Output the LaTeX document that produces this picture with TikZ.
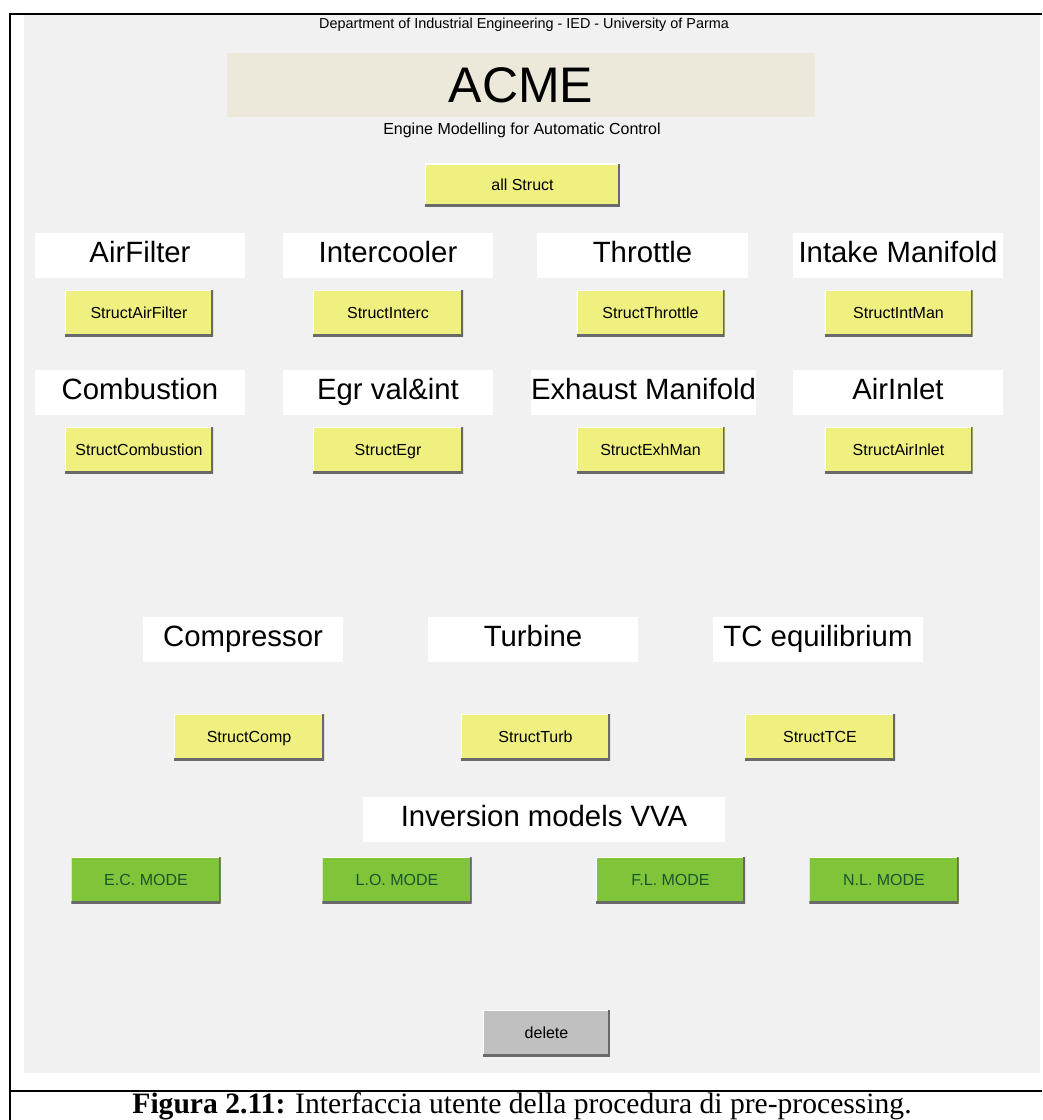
\documentclass[tikz,border=0pt]{standalone}
\usepackage{fontspec}
\setmainfont{Liberation Sans}
\newfontfamily\capfont{Liberation Serif}
\definecolor{panel}{RGB}{240,241,240}
\definecolor{acmebg}{RGB}{236,233,218}
\definecolor{btnyellow}{RGB}{240,240,128}
\definecolor{btngreen}{RGB}{128,196,58}
\definecolor{btngray}{RGB}{192,192,192}
\definecolor{edgedark}{RGB}{105,105,105}
\definecolor{modetext}{RGB}{25,85,45}
\newcommand{\px}[1]{\fontsize{#1}{#1}\selectfont}
\begin{document}
\begin{tikzpicture}[x=0.75pt,y=-0.75pt,
  every node/.style={inner sep=0pt, outer sep=0pt},
  titlebox/.style={text height=1.08em, text depth=0pt, fill=white, minimum height=33.75pt, font=\px{22pt}},
  raised/.style={path picture={
      \draw[white, line width=1.5pt]
        (path picture bounding box.south west) |- (path picture bounding box.north east);
      \draw[edgedark, line width=3pt]
        (path picture bounding box.south west) -| (path picture bounding box.north east);}},
  btntext/.style={text height=0.82em, text depth=0pt, font=\px{12pt}},
  ybtn/.style={btntext, raised, fill=btnyellow, minimum width=111pt, minimum height=34.5pt},
  gbtn/.style={btntext, raised, fill=btngreen, minimum width=112pt, minimum height=34.5pt, text=modetext},
  dbtn/.style={btntext, raised, fill=btngray, minimum width=95pt, minimum height=34.5pt},
  frameline/.style={line width=1.5pt}
]
\path[use as bounding box, fill=white] (0,0) rectangle (1042,1120);
\begin{scope}
\clip (0,0) rectangle (1042,1120);

% window panel
\fill[panel] (24,15) rectangle (1040,1073);

% header
\node (dept) at (524,25) {\px{10.8pt}Department of Industrial Engineering - IED - University of Parma};
\node[fill=acmebg, minimum width=441pt, minimum height=48pt] (acmebox) at (521,85) {};
\node (acme) at (521,85) {\px{37.5pt}ACME};
\node (subtitle) at (522,130) {\px{12pt}Engine Modelling for Automatic Control};
\node[ybtn, minimum width=146pt, minimum height=32pt] (allstruct) at (522.5,185) {all Struct};

% first block of components
\node[titlebox, minimum width=157.5pt] (tAir) at (140,255.5) {AirFilter};
\node[titlebox, minimum width=157.5pt] (tInt) at (388,255.5) {Intercooler};
\node[titlebox, minimum width=158pt] (tThr) at (642.5,255.5) {Throttle};
\node[titlebox, minimum width=157.5pt] (tMan) at (898,255.5) {Intake Manifold};

\node[ybtn] (bAir) at (139,313) {StructAirFilter};
\node[ybtn, minimum width=112.5pt] (bInt) at (388,313) {StructInterc};
\node[ybtn] (bThr) at (650.5,313) {StructThrottle};
\node[ybtn] (bMan) at (898.5,313) {StructIntMan};

\node[titlebox, minimum width=157.5pt] (tComb) at (140,392.5) {Combustion};
\node[titlebox, minimum width=157.5pt] (tEgr) at (388,392.5) {Egr val\&int};
\node[titlebox, minimum width=169pt] (tExh) at (643.5,392.5) {Exhaust Manifold};
\node[titlebox, minimum width=157.5pt] (tInl) at (898,392.5) {AirInlet};

\node[ybtn] (bComb) at (139,450) {StructCombustion};
\node[ybtn, minimum width=112.5pt] (bEgr) at (388,450) {StructEgr};
\node[ybtn] (bExh) at (650.5,450) {StructExhMan};
\node[ybtn] (bInl) at (898.5,450) {StructAirInlet};

% turbocharger block
\node[titlebox, minimum width=150pt] (tComp) at (243,639) {Compressor};
\node[titlebox, minimum width=157.5pt] (tTurb) at (533,639) {Turbine};
\node[titlebox, minimum width=157.5pt] (tTCE) at (818,639) {TC equilibrium};

\node[ybtn, minimum width=112.5pt] (bComp) at (249,737) {StructComp};
\node[ybtn, minimum width=112pt] (bTurb) at (535.5,737) {StructTurb};
\node[ybtn, minimum width=112.5pt] (bTCE) at (820,737) {StructTCE};

% inversion models
\node[titlebox, minimum width=271.5pt] (tInv) at (544,819) {Inversion models VVA};
\node[gbtn] (bEC) at (146,880) {E.C. MODE};
\node[gbtn] (bLO) at (397,880) {L.O. MODE};
\node[gbtn] (bFL) at (670.5,880) {F.L. MODE};
\node[gbtn] (bNL) at (884,880) {N.L. MODE};

\node[dbtn] (bDel) at (546.5,1033) {delete};

% figure frame and caption
\draw[frameline] (10,1120) -- (10,14) -- (1042,14);
\draw[frameline] (10,1091) -- (1042,1091);
\node[anchor=base, font=\capfont\px{22.2pt}] (caption) at (522,1113)
  {\textbf{Figura 2.11:} Interfaccia utente della procedura di pre-processing.};
\end{scope}
\end{tikzpicture}
\end{document}
